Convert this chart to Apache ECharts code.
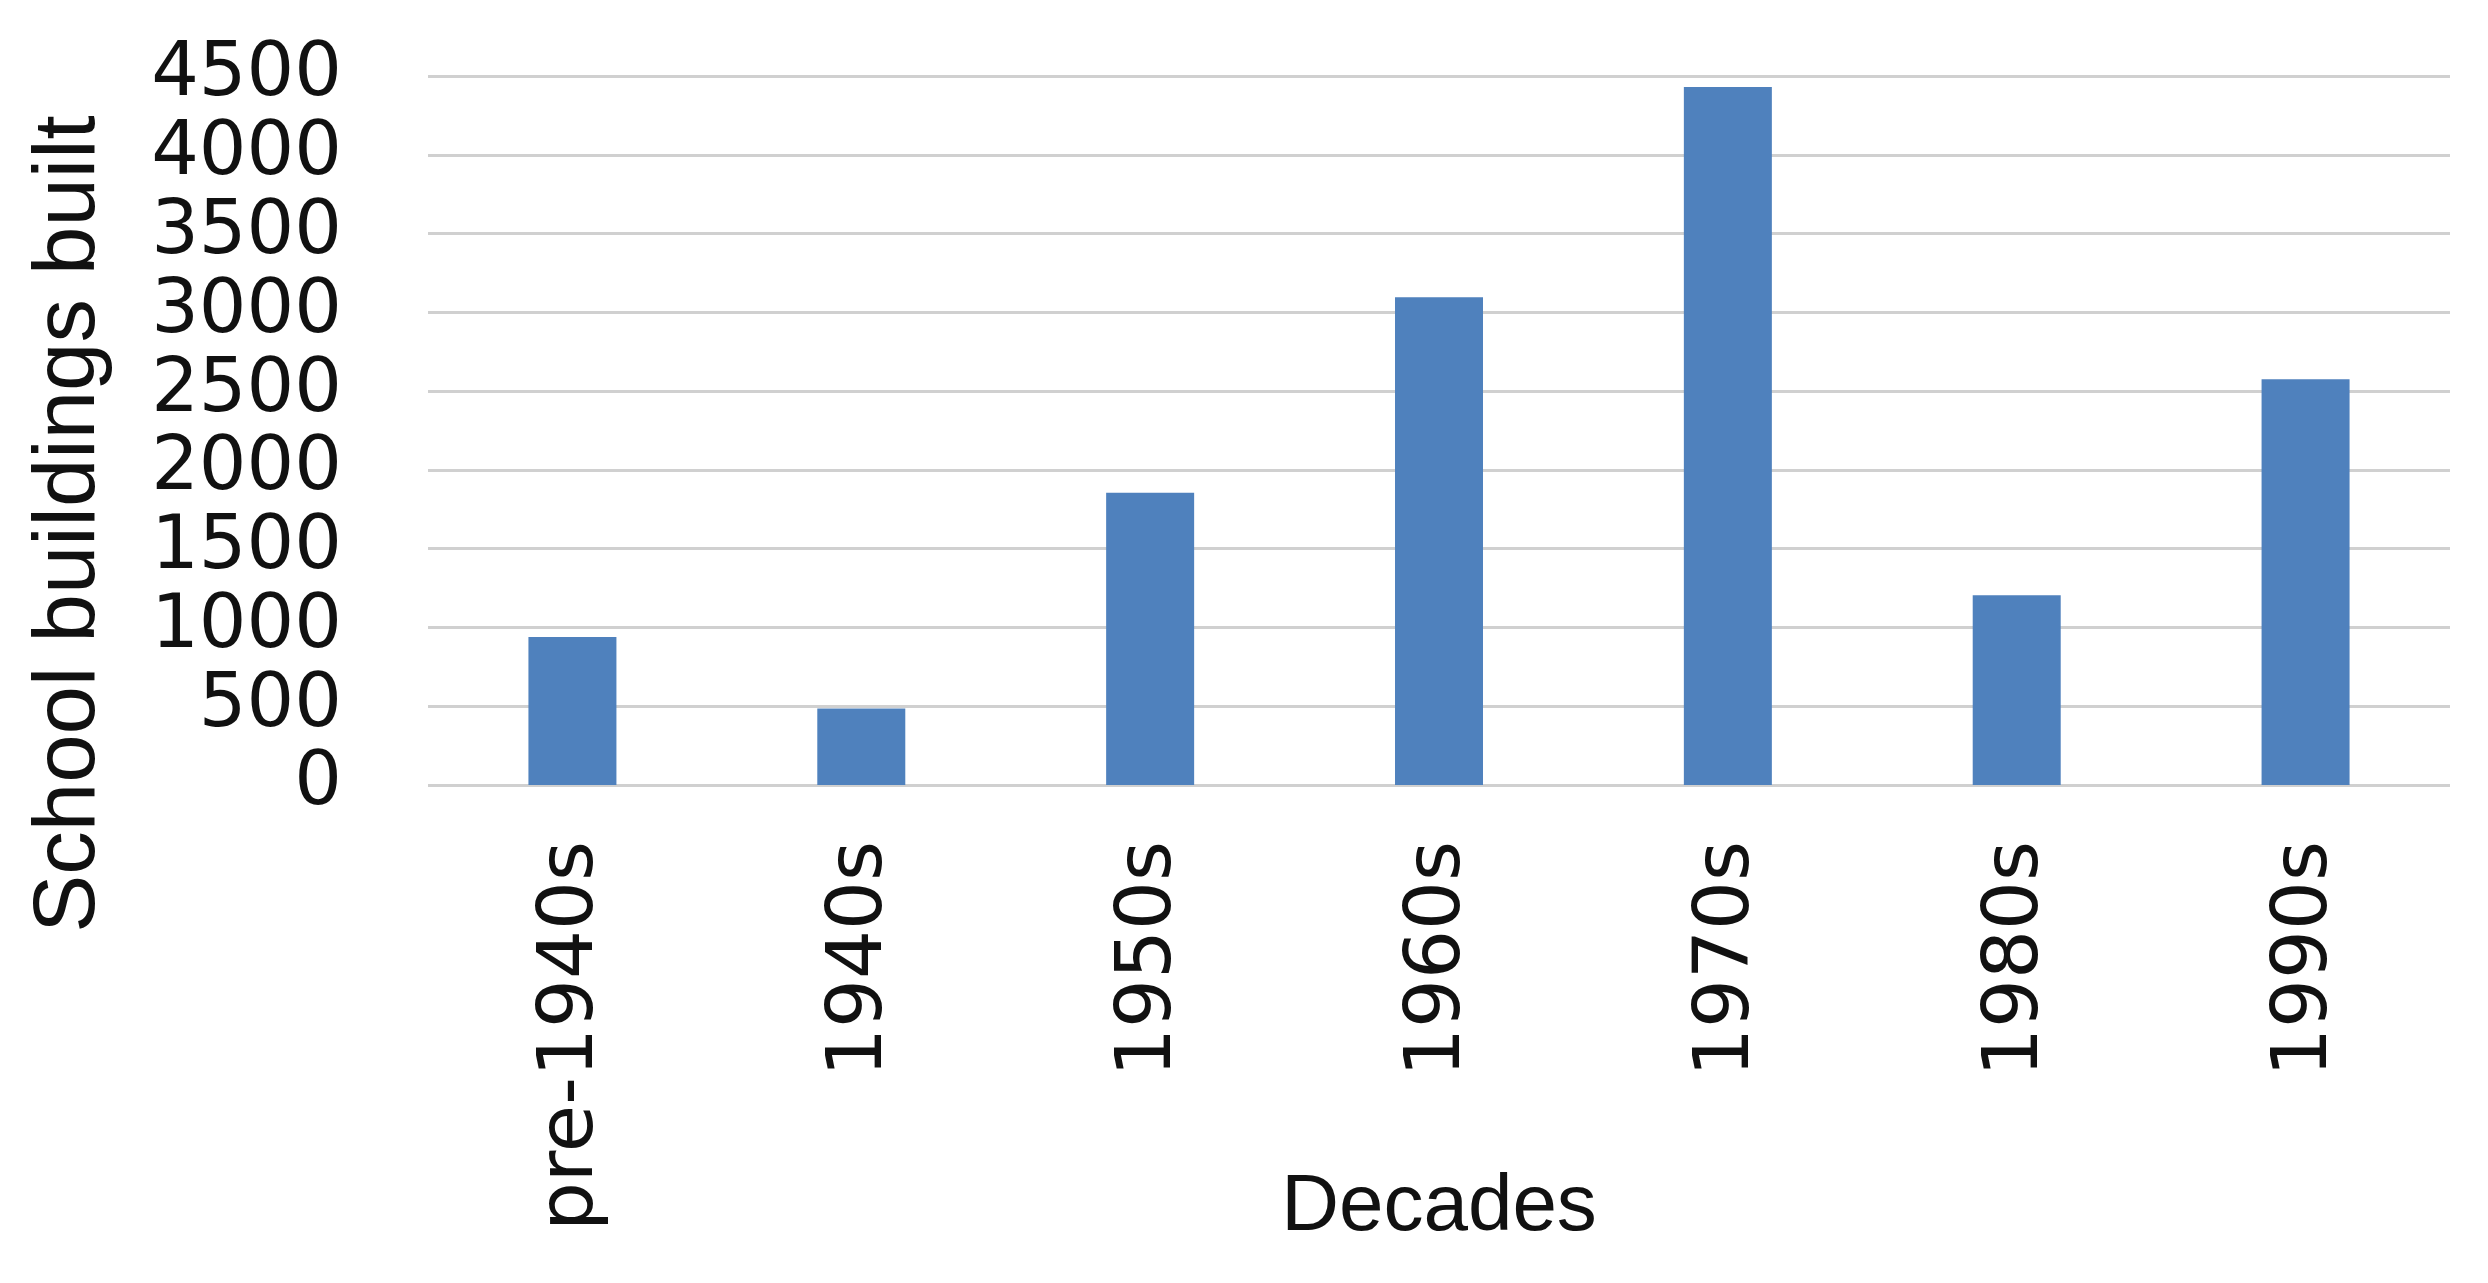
<!DOCTYPE html>
<html>
<head>
<meta charset="utf-8">
<script src="https://cdn.jsdelivr.net/npm/echarts@6/dist/echarts.min.js"></script>
<style>
html,body{margin:0;padding:0;background:#fff;}
#chart{width:2488px;height:1283px;}
</style>
</head>
<body>
<div id="chart"></div>
<script>
var categories = ['pre-1940s', '1940s', '1950s', '1960s', '1970s', '1980s', '1990s'];
var buildings = [940, 485, 1855, 3095, 4430, 1205, 2575];
var yTitle = 'School buildings built';
var xTitle = 'Decades';

var chart = echarts.init(document.getElementById('chart'));
chart.setOption({
  backgroundColor: '#ffffff',
  animation: false,
  grid: { left: 428, right: 38, top: 76, bottom: 498, containLabel: false, outerBoundsMode: 'none' },
  xAxis: {
    type: 'category',
    data: categories,
    name: xTitle,
    nameLocation: 'middle',
    nameGap: 383,
    nameMoveOverlap: false,
    nameTextStyle: { fontFamily: 'Liberation Sans', fontSize: 80, color: '#111' },
    axisLine: { show: false },
    axisTick: { show: false },
    axisLabel: { rotate: 90, margin: 56, fontFamily: 'DejaVu Sans', fontSize: 77, color: '#111' }
  },
  yAxis: {
    type: 'value',
    min: 0,
    max: 4500,
    interval: 500,
    axisLine: { show: false },
    axisTick: { show: false },
    axisLabel: {
      margin: 86, fontFamily: 'DejaVu Sans', fontSize: 75, color: '#111',
      formatter: function (v) { return String(v); }
    },
    splitLine: { lineStyle: { color: '#d0d0d0', width: 3 } }
  },
  graphic: [{
    type: 'text',
    x: 70,
    y: 524,
    rotation: Math.PI / 2,
    style: {
      text: yTitle,
      font: '87px "Liberation Sans"',
      fill: '#111',
      align: 'center',
      verticalAlign: 'middle'
    }
  }],
  series: [{
    type: 'bar',
    data: buildings,
    barWidth: 88,
    itemStyle: { color: '#4f81bd' }
  }]
});
</script>
</body>
</html>
